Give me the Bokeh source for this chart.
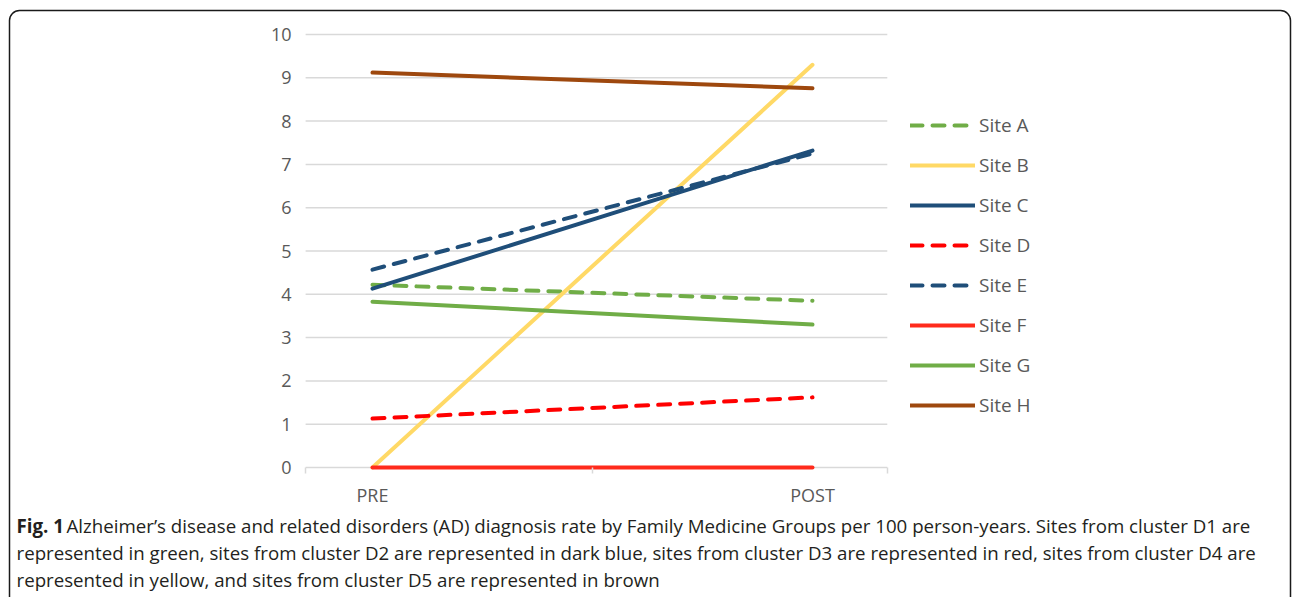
from bokeh.plotting import figure
from bokeh.models import (Range1d, FixedTicker, LinearAxis, Legend, LegendItem,
                          Label, BoxAnnotation, CustomJSTickFormatter)
from bokeh.embed import file_html
from bokeh.resources import INLINE

# Diagnosis rate per 100 person-years, before and after
periods = ["PRE", "POST"]
sites = ["Site A", "Site B", "Site C", "Site D", "Site E", "Site F", "Site G", "Site H"]
pre_rate = [4.22, 0.0, 4.13, 1.13, 4.57, 0.0, 3.83, 9.12]
post_rate = [3.85, 9.30, 7.32, 1.62, 7.25, 0.0, 3.30, 8.76]
colors = ["#70AD47", "#FFD966", "#1F4E79", "#FF0000", "#1F4E79", "#FF2B1C", "#70AD47", "#9E480E"]
dashed = [True, False, False, True, True, False, False, False]
y_ticks = list(range(0, 11))

caption_bold = "Fig. 1"
caption_lines = [
    "Alzheimer\u2019s disease and related disorders (AD) diagnosis rate by Family Medicine Groups per 100 person-years. Sites from cluster D1 are",
    "represented in green, sites from cluster D2 are represented in dark blue, sites from cluster D3 are represented in red, sites from cluster D4 are",
    "represented in yellow, and sites from cluster D5 are represented in brown",
]

FONT = "Open Sans"
GRAY = "#595959"
W, H = 1292, 597

# the frame fills the whole canvas; the plot area is bounded by the axes' own bounds
X0, X1 = -0.152, 1.17          # ends of the category axis
PX_PER_X, PX_PRE = 440.0, 372.0
PX_PER_Y, PX_ZERO = 43.3, 467.0
x_range = Range1d(-PX_PRE / PX_PER_X, (W - PX_PRE) / PX_PER_X)
y_range = Range1d(-(H - PX_ZERO) / PX_PER_Y, PX_ZERO / PX_PER_Y)

p = figure(width=W, height=H, output_backend="svg", toolbar_location=None,
           x_range=x_range, y_range=y_range, min_border=0,
           x_axis_type=None, y_axis_type=None)
p.outline_line_color = None
p.background_fill_color = "white"
p.border_fill_color = "white"

# horizontal gridlines across the plot area (the one at 0 doubles as the category axis line)
p.segment(x0=X0, x1=X1, y0=y_ticks, y1=y_ticks, line_color="#D9D9D9", line_width=1.5)

# y axis: labels only
y_axis = LinearAxis(ticker=FixedTicker(ticks=y_ticks), fixed_location=X0, bounds=(0, 10),
                    axis_line_color=None, major_tick_line_color=None,
                    minor_tick_line_color=None, major_label_standoff=8,
                    major_label_text_font=FONT, major_label_text_font_size="18px",
                    major_label_text_color=GRAY)
p.add_layout(y_axis, "left")

# x axis: category separator ticks, then the category names
tick_axis = LinearAxis(ticker=FixedTicker(ticks=[X0, 0.5, X1]), fixed_location=0,
                       bounds=(X0, X1), formatter=CustomJSTickFormatter(code="return ''"),
                       axis_line_color=None,
                       major_tick_line_color="#D9D9D9", major_tick_line_width=1.5,
                       major_tick_in=0, major_tick_out=6, minor_tick_line_color=None,
                       major_label_text_font_size="1px")
p.add_layout(tick_axis, "below")
name_axis = LinearAxis(ticker=FixedTicker(ticks=[0, 1]), fixed_location=0, bounds=(X0, X1),
                       major_label_overrides={0: periods[0], 1: periods[1]},
                       axis_line_color=None, major_tick_line_color=None,
                       minor_tick_line_color=None, major_tick_out=0, major_tick_in=0,
                       major_label_standoff=15,
                       major_label_text_font=FONT, major_label_text_font_size="18px",
                       major_label_text_color=GRAY)
p.add_layout(name_axis, "below")

items = []
for i, name in enumerate(sites):
    r = p.line([0, 1], [pre_rate[i], post_rate[i]], line_color=colors[i], line_width=4,
               line_cap="round", line_dash="12 10" if dashed[i] else "solid")
    items.append(LegendItem(label=name, renderers=[r]))

legend = Legend(items=items, location=(910, 179), orientation="vertical",
                border_line_color=None, background_fill_alpha=0,
                label_text_font=FONT, label_text_font_size="19px",
                label_text_color=GRAY, glyph_width=65, glyph_height=20,
                label_height=20, label_standoff=4, spacing=14, padding=0, margin=0)
p.add_layout(legend, "center")

# caption
CAP_Y, CAP_STEP, CAP_SIZE = 525, 27, "18.7px"
p.add_layout(Label(x=16, y=H - CAP_Y, x_units="screen", y_units="screen", text=caption_bold,
                   text_font=FONT, text_font_size=CAP_SIZE, text_font_style="bold",
                   text_color="#231F20", text_baseline="middle"))
for k, line in enumerate(caption_lines):
    p.add_layout(Label(x=66 if k == 0 else 16, y=H - CAP_Y - CAP_STEP * k, x_units="screen",
                       y_units="screen", text=line, text_font=FONT, text_font_size=CAP_SIZE,
                       text_color="#231F20", text_baseline="middle"))

# rounded frame around the figure panel, open at the bottom edge
p.add_layout(BoxAnnotation(left=9, right=1290, top=H - 10, bottom=-40,
                           left_units="screen", right_units="screen",
                           top_units="screen", bottom_units="screen",
                           fill_alpha=0, line_color="#1A1A1A", line_alpha=1.0,
                           line_width=1.5, border_radius=10))

open("out.html", "w").write(file_html(p, INLINE))
